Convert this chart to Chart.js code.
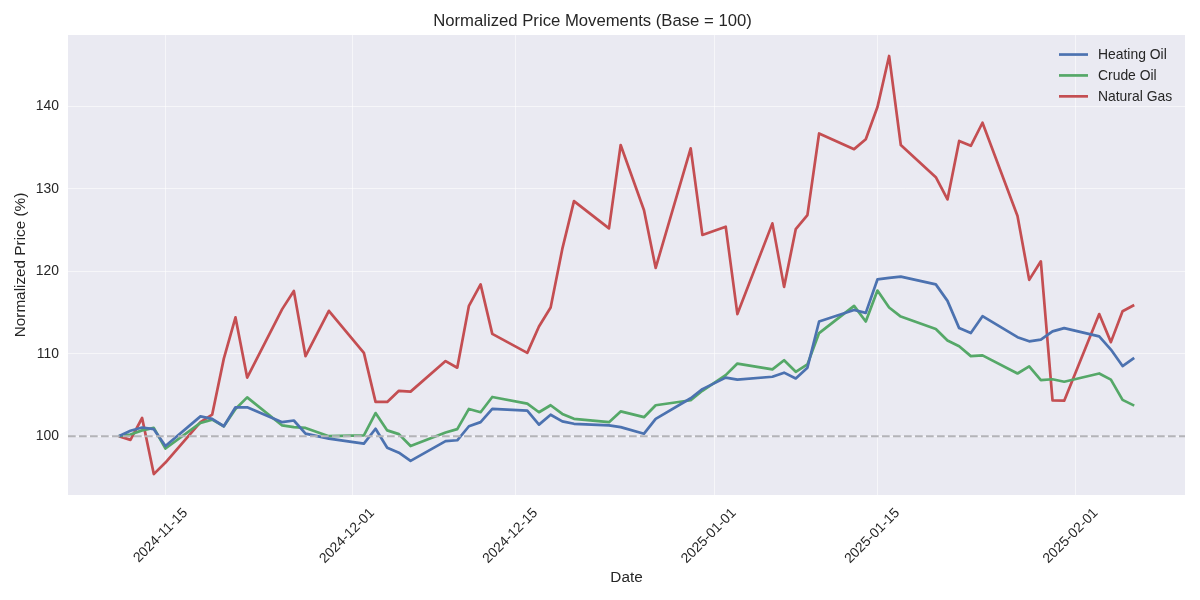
<!DOCTYPE html>
<html>
<head>
<meta charset="utf-8">
<script src="https://cdn.jsdelivr.net/npm/chart.js@4.4.1/dist/chart.umd.min.js"></script>
<style>
  html, body { margin: 0; padding: 0; background: #fff; }
</style>
</head>
<body>
<canvas id="myChart" width="1200" height="600"></canvas>
<script>
// trading days (all three series share the same dates)
const dates = [
  "2024-11-11","2024-11-12","2024-11-13","2024-11-14","2024-11-15",
  "2024-11-18","2024-11-19","2024-11-20","2024-11-21","2024-11-22",
  "2024-11-25","2024-11-26","2024-11-27","2024-11-29",
  "2024-12-02","2024-12-03","2024-12-04","2024-12-05","2024-12-06",
  "2024-12-09","2024-12-10","2024-12-11","2024-12-12","2024-12-13",
  "2024-12-16","2024-12-17","2024-12-18","2024-12-19","2024-12-20",
  "2024-12-23","2024-12-24","2024-12-26","2024-12-27",
  "2024-12-30","2024-12-31","2025-01-02","2025-01-03",
  "2025-01-06","2025-01-07","2025-01-08","2025-01-09","2025-01-10",
  "2025-01-13","2025-01-14","2025-01-15","2025-01-16","2025-01-17",
  "2025-01-20","2025-01-21","2025-01-22","2025-01-23","2025-01-24",
  "2025-01-27","2025-01-28","2025-01-29","2025-01-30","2025-01-31",
  "2025-02-03","2025-02-04","2025-02-05","2025-02-06"
];

const heatingOil = [
  100, 100.65, 101.05, 100.85, 98.8,
  102.4, 102.1, 101.2, 103.5, 103.5,
  101.7, 101.9, 100.3, 99.7,
  99.1, 100.9, 98.6, 98.0, 97.0,
  99.4, 99.5, 101.2, 101.7, 103.3,
  103.1, 101.4, 102.6, 101.8, 101.5,
  101.3, 101.1, 100.3, 102.1,
  104.6, 105.7, 107.1, 106.85,
  107.2, 107.7, 107.0, 108.3, 113.9,
  115.3, 114.95, 119.0, 119.2, 119.35,
  118.4, 116.4, 113.1, 112.5, 114.55,
  112.0, 111.5, 111.7, 112.7, 113.1,
  112.1, 110.5, 108.5, 109.5
];

const crudeOil = [
  100, 100.2, 100.7, 101.0, 98.5,
  101.6, 102.0, 101.2, 103.3, 104.7,
  101.3, 101.1, 101.0, 100.0,
  100.1, 102.8, 100.7, 100.25, 98.8,
  100.45, 100.85, 103.3, 102.9, 104.75,
  103.95, 102.9, 103.75, 102.7, 102.1,
  101.7, 103.0, 102.3, 103.75,
  104.35, 105.5, 107.4, 108.8,
  108.1, 109.2, 107.8, 108.7, 112.5,
  115.8, 113.9, 117.65, 115.6, 114.5,
  113.0, 111.6, 110.9, 109.7, 109.8,
  107.6, 108.45, 106.8, 106.9, 106.6,
  107.6, 106.85, 104.4, 103.7
];

const naturalGas = [
  100, 99.55, 102.2, 95.4, 96.8,
  101.7, 102.6, 109.4, 114.4, 107.1,
  115.4, 117.6, 109.7, 115.2,
  110.1, 104.15, 104.15, 105.5, 105.4,
  109.1, 108.3, 115.8, 118.4, 112.4,
  110.1, 113.3, 115.6, 122.7, 128.5,
  125.2, 135.3, 127.4, 120.4,
  134.9, 124.4, 125.4, 114.8,
  125.8, 118.1, 125.1, 126.8, 136.7,
  134.8, 136.0, 139.9, 146.1, 135.3,
  131.4, 128.7, 135.8, 135.2, 138.0,
  126.7, 118.95, 121.2, 104.35, 104.3,
  114.8, 111.4, 115.15, 115.9
];

const xTickDates = ["2024-11-15","2024-12-01","2024-12-15","2025-01-01","2025-01-15","2025-02-01"];
const yTicks = [100, 110, 120, 130, 140];
const baseValue = 100;

const FONT = '"Liberation Sans", Arial, sans-serif';
const TEXT = "#262626";
Chart.defaults.font.family = FONT;
Chart.defaults.color = TEXT;

// dates -> day numbers, so a plain linear axis can be used (no date adapter)
function dayNum(s) {
  const p = s.split("-");
  return Date.UTC(+p[0], +p[1] - 1, +p[2]) / 86400000;
}
function dayLabel(n) {
  return new Date(Math.round(n) * 86400000).toISOString().slice(0, 10);
}
function toPoints(vals) {
  return vals.map((v, i) => ({ x: dayNum(dates[i]), y: v }));
}

// matplotlib-like 5% margins
const xFirst = dayNum(dates[0]), xLast = dayNum(dates[dates.length - 1]);
const xPad = (xLast - xFirst) * 0.05;
const allVals = heatingOil.concat(crudeOil, naturalGas);
const yLo = Math.min(...allVals), yHi = Math.max(...allVals);
const yPad = (yHi - yLo) * 0.05;

const plotBg = {
  id: "plotBg",
  beforeDraw(chart) {
    const { ctx, chartArea: a } = chart;
    ctx.save();
    ctx.fillStyle = "#EAEAF2";
    ctx.fillRect(a.left, a.top, a.right - a.left, a.bottom - a.top);
    ctx.restore();
  }
};

const baseLine = {
  id: "baseLine",
  afterDatasetsDraw(chart) {
    const { ctx, chartArea: a, scales } = chart;
    const y = scales.y.getPixelForValue(baseValue);
    ctx.save();
    ctx.strokeStyle = "#B4B4B8";
    ctx.lineWidth = 2;
    ctx.setLineDash([7.7, 3.3]);
    ctx.beginPath();
    ctx.moveTo(a.left, y);
    ctx.lineTo(a.right, y);
    ctx.stroke();
    ctx.restore();
  }
};

const insideLegend = {
  id: "insideLegend",
  afterDraw(chart) {
    const { ctx, chartArea: a } = chart;
    ctx.save();
    ctx.font = "13.9px " + FONT;
    ctx.textBaseline = "middle";
    ctx.textAlign = "left";
    chart.data.datasets.forEach((ds, i) => {
      const y = a.top + 19.5 + i * 20.9;
      const x0 = a.right - 126;
      ctx.strokeStyle = ds.borderColor;
      ctx.lineWidth = ds.borderWidth;
      ctx.beginPath();
      ctx.moveTo(x0, y);
      ctx.lineTo(x0 + 29, y);
      ctx.stroke();
      ctx.fillStyle = TEXT;
      ctx.fillText(ds.label, x0 + 39, y + 1);
    });
    ctx.restore();
  }
};

new Chart(document.getElementById("myChart"), {
  type: "line",
  data: {
    datasets: [
      { label: "Heating Oil", data: toPoints(heatingOil), borderColor: "#4C72B0", borderWidth: 2.7 },
      { label: "Crude Oil", data: toPoints(crudeOil), borderColor: "#55A868", borderWidth: 2.7 },
      { label: "Natural Gas", data: toPoints(naturalGas), borderColor: "#C44E52", borderWidth: 2.7 }
    ]
  },
  options: {
    responsive: false,
    animation: false,
    events: [],
    layout: { padding: { left: 0, right: 15, top: 0, bottom: 0 } },
    elements: {
      point: { radius: 0 },
      line: { tension: 0, fill: false, borderJoinStyle: "round", borderCapStyle: "butt" }
    },
    plugins: {
      legend: { display: false },
      tooltip: { enabled: false },
      title: {
        display: true,
        text: "Normalized Price Movements (Base = 100)",
        color: TEXT,
        font: { size: 16.7, weight: "normal" },
        padding: { top: 11, bottom: 4 }
      }
    },
    scales: {
      x: {
        type: "linear",
        min: xFirst - xPad,
        max: xLast + xPad,
        afterBuildTicks: s => { s.ticks = xTickDates.map(d => ({ value: dayNum(d) })); },
        afterFit: s => { s.height = 105; s.paddingLeft = 0; s.paddingRight = 0; },
        ticks: {
          autoSkip: false,
          minRotation: 45,
          maxRotation: 45,
          labelOffset: 20,
          padding: 10,
          color: TEXT,
          font: { size: 13.9 },
          callback: v => dayLabel(v)
        },
        grid: { color: "rgba(255,255,255,0.55)", lineWidth: 1, drawTicks: false },
        border: { display: false },
        title: {
          display: true,
          text: "Date",
          color: TEXT,
          font: { size: 15.3 },
          padding: { top: 0, bottom: 13 }
        }
      },
      y: {
        type: "linear",
        min: yLo - yPad,
        max: yHi + yPad,
        afterBuildTicks: s => { s.ticks = yTicks.map(v => ({ value: v })); },
        afterFit: s => { s.width = 68; s.paddingTop = 0; s.paddingBottom = 0; },
        ticks: {
          padding: 9,
          color: TEXT,
          font: { size: 13.9 },
          callback: v => String(v)
        },
        grid: { color: "rgba(255,255,255,0.55)", lineWidth: 1, drawTicks: false },
        border: { display: false },
        title: {
          display: true,
          text: "Normalized Price (%)",
          color: TEXT,
          font: { size: 15.3 },
          padding: { top: 12, bottom: 0 }
        }
      }
    }
  },
  plugins: [plotBg, baseLine, insideLegend]
});
</script>
</body>
</html>
